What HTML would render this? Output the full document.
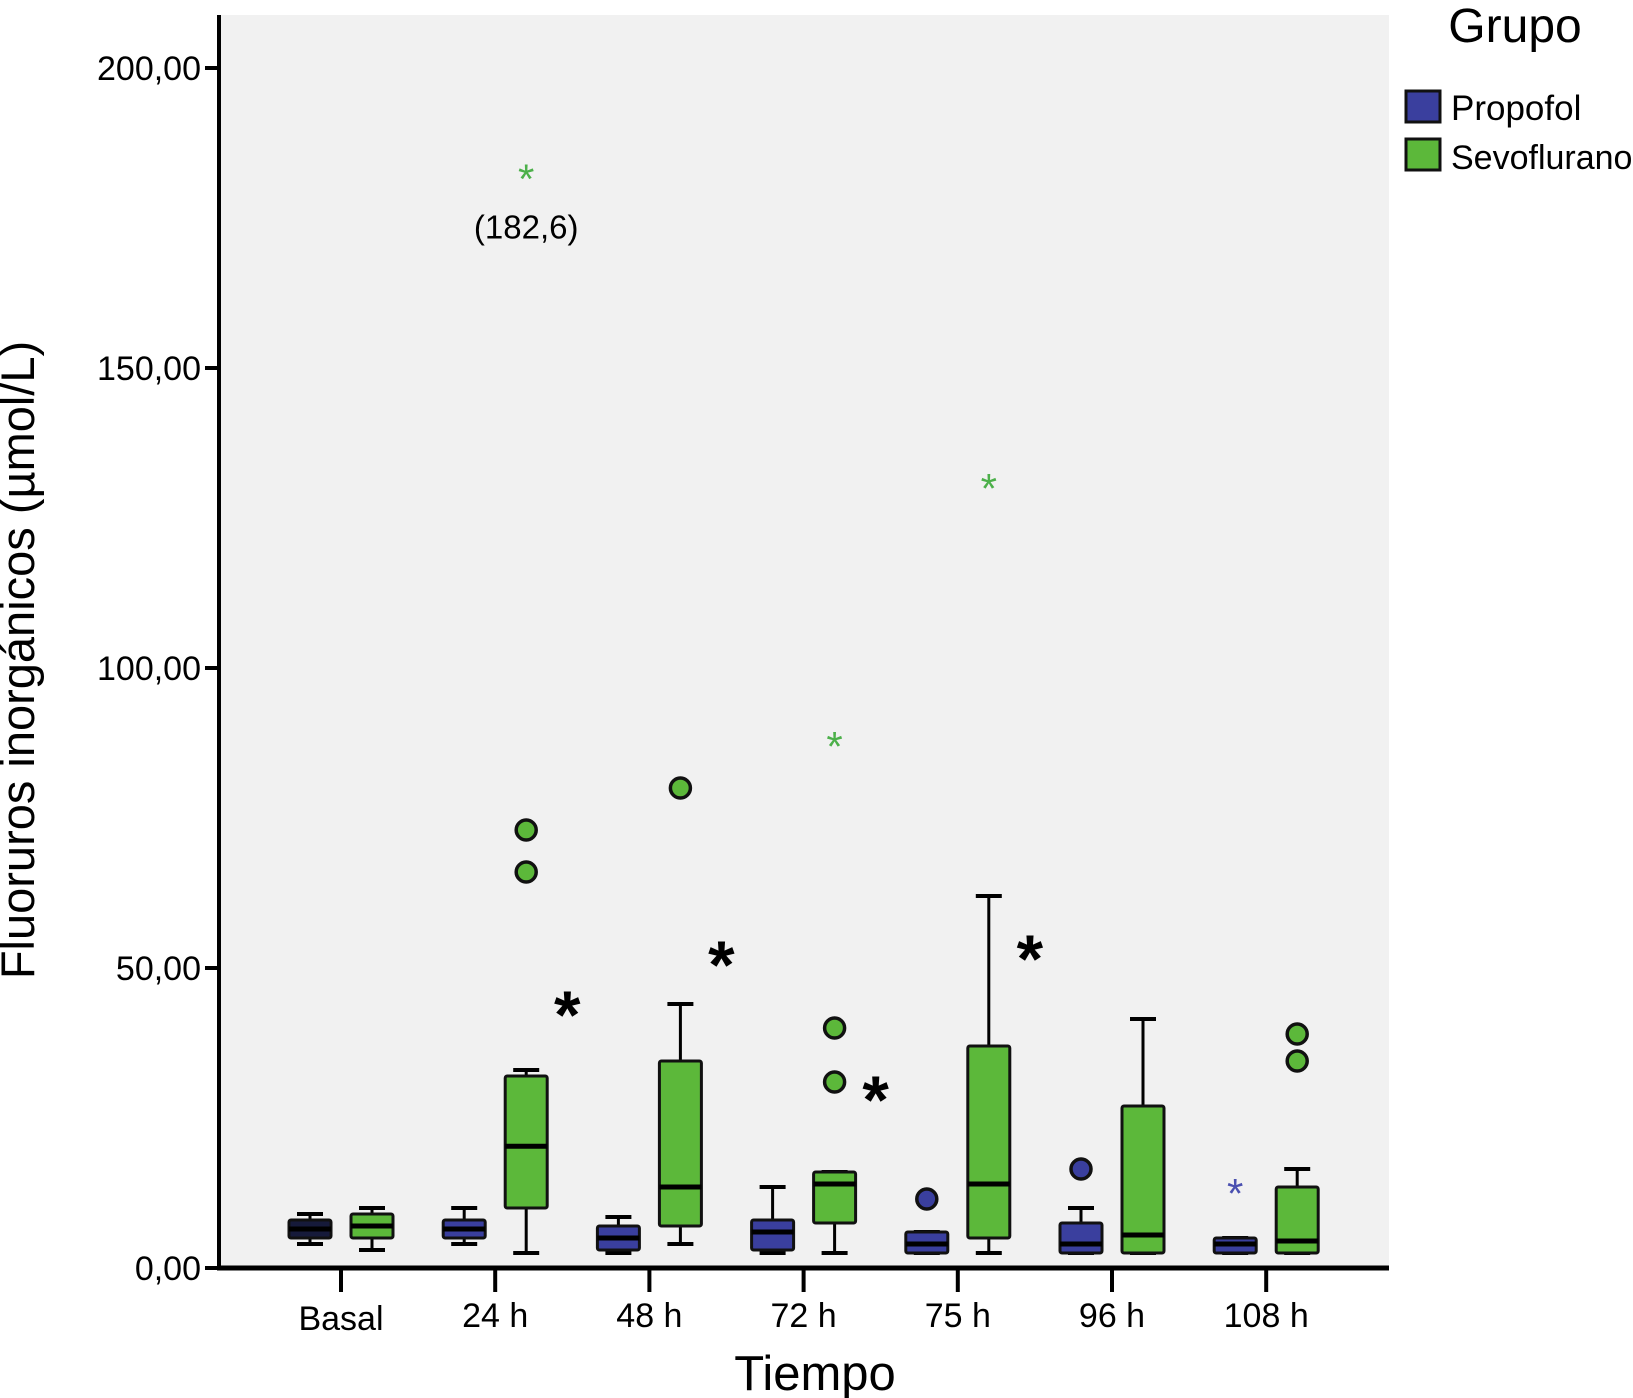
<!DOCTYPE html>
<html><head><meta charset="utf-8"><style>
body{margin:0;background:#fff;}
svg{display:block;font-family:"Liberation Sans",sans-serif;}
</style></head><body>
<svg id="c" width="1633" height="1398" viewBox="0 0 1633 1398">
<rect x="219" y="15" width="1170" height="1253" fill="#f1f1f1"/>
<g id="g"></g>
<text x="34" y="660" font-size="47" text-anchor="middle" transform="rotate(-90 34 660)">Fluoruros inorgánicos (µmol/L)</text>
<text x="815" y="1390" font-size="49" text-anchor="middle">Tiempo</text>
<text x="1515" y="42" font-size="48" text-anchor="middle">Grupo</text>
<rect x="1406" y="91" width="34" height="31" fill="#3a3f9e" stroke="#111" stroke-width="3"/>
<text x="1451" y="120" font-size="35">Propofol</text>
<rect x="1406" y="139" width="34" height="31" fill="#5cb83a" stroke="#111" stroke-width="3"/>
<text x="1451" y="169" font-size="34">Sevoflurano</text>
</svg>
<script>
const categories=["Basal","24 h","48 h","72 h","75 h","96 h","108 h"];
const yTicks=[0,50,100,150,200];
const yTickLabels=["0,00","50,00","100,00","150,00","200,00"];
// [whiskerLow, q1, median, q3, whiskerHigh]
const propofol=[[4,5,6.5,8,9],[4,5,6.5,8,10],[2.5,3,5,7,8.5],[2.5,3,6,8,13.5],[2.5,2.5,4,6,6],[2.5,2.5,4,7.5,10],[2.5,2.5,4,5,5]];
const sevoflurano=[[3,5,7,9,10],[2.5,10,20.3,32,33],[4,7,13.5,34.5,44],[2.5,7.5,14,16,16],[2.5,5,14,37,62],[2.5,2.5,5.5,27,41.5],[2.5,2.5,4.5,13.5,16.5]];
const propOutliers=[[],[],[],[],[11.5],[16.5],[]];
const propExtremes=[[],[],[],[],[],[],[13.5]];
const sevoOutliers=[[],[73,66],[80],[40,31],[],[],[39,34.5]];
const sevoExtremes=[[],[182.6],[],[88],[131],[],[]];
const extremeLabels=[[],["(182,6)"],[],[],[],[],[]];
const sigStars=[null,43.7,52,29.5,53,null,null];

const NS="http://www.w3.org/2000/svg";
const g=document.getElementById('g');
const y0=1268, x0=219;
const yS=v=>y0-6*v;
const xS=i=>341+154.2*i;
function mk(t,a,p){const e=document.createElementNS(NS,t);for(const k in a)e.setAttribute(k,a[k]);(p||g).appendChild(e);return e;}

yTicks.forEach((v,i)=>{
  const t=mk('line',{x1:x0-14,x2:x0,y1:yS(v),y2:yS(v),stroke:'#000','stroke-width':4});
  
  
  const l=mk('text',{x:x0-18,y:yS(v)+12,'font-size':34,'text-anchor':'end'});
  l.textContent=yTickLabels[i];
  
  
});
categories.forEach((c,i)=>{
  const t=mk('line',{x1:xS(i),x2:xS(i),y1:y0,y2:y0+24,stroke:'#000','stroke-width':4});
  
  
  const l=mk('text',{x:xS(i),y:y0+(i==0?62:59),'font-size':34,'text-anchor':'middle'});
  l.textContent=c;
  
  
});
function box(cx,d,fill,name){
  const grp=mk('g',{});
  
  
  const w=42,cap=13;
  mk('line',{x1:cx,x2:cx,y1:yS(d[4]),y2:yS(d[0]),stroke:'#000','stroke-width':3},grp);
  mk('line',{x1:cx-cap,x2:cx+cap,y1:yS(d[4]),y2:yS(d[4]),stroke:'#000','stroke-width':4},grp);
  mk('line',{x1:cx-cap,x2:cx+cap,y1:yS(d[0]),y2:yS(d[0]),stroke:'#000','stroke-width':4},grp);
  mk('rect',{x:cx-w/2,y:yS(d[3]),width:w,height:Math.max(yS(d[1])-yS(d[3]),2),fill:fill,stroke:'#111','stroke-width':3,rx:2},grp);
  mk('line',{x1:cx-w/2,x2:cx+w/2,y1:yS(d[2]),y2:yS(d[2]),stroke:'#000','stroke-width':5},grp);
}
function circ(cx,v,fill){const e=mk('circle',{cx:cx,cy:yS(v),r:10,fill:fill,stroke:'#111','stroke-width':3.5});
  
  }
function ext(cx,v,fill){const e=mk('text',{x:cx,y:yS(v)+21,'font-size':42,'text-anchor':'middle',fill:fill});
  e.textContent='*';
  
  }
categories.forEach((c,i)=>{
  const px=xS(i)-31, sx=xS(i)+31;
  box(px,propofol[i],i==0?'#161a3a':'#3a3f9e','box-propofol');
  box(sx,sevoflurano[i],'#5cb83a','box-sevoflurano');
  propOutliers[i].forEach(v=>circ(px,v,'#3a3f9e'));
  propExtremes[i].forEach(v=>ext(px,v,'#4a50b0'));
  sevoOutliers[i].forEach(v=>circ(sx,v,'#5cb83a'));
  sevoExtremes[i].forEach((v,j)=>{ext(sx,v,'#4cb04a');
    if(extremeLabels[i][j]){const l=mk('text',{x:sx,y:yS(v)+66,'font-size':33,'text-anchor':'middle'});
      l.textContent=extremeLabels[i][j];
      
      }
  });
  if(sigStars[i]!=null){const s=mk('text',{x:xS(i)+72,y:yS(sigStars[i])+32,'font-size':68,'font-weight':'bold','text-anchor':'middle'});
    s.textContent='*';
    
    }
});
const ax=mk('line',{x1:x0,x2:x0,y1:15,y2:y0+2,stroke:'#000','stroke-width':4});


const bx=mk('line',{x1:x0-2,x2:1389,y1:y0,y2:y0,stroke:'#000','stroke-width':5});


</script>
</body></html>
